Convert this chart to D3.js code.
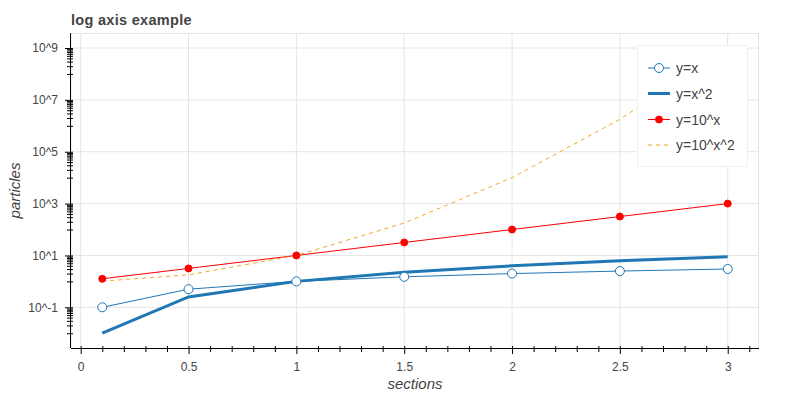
<!DOCTYPE html>
<html><head><meta charset="utf-8">
<script src="https://cdn.jsdelivr.net/npm/d3@7"></script>
<style>body{margin:0;background:#fff}svg{display:block}text{font-family:"Liberation Sans",Arial,Helvetica,sans-serif}</style>
</head><body><svg id="c" width="792" height="396"></svg>
<script>
const xs = [0.1, 0.5, 1.0, 1.5, 2.0, 2.5, 3.0];
const yLinear = [0.1, 0.5, 1.0, 1.5, 2.0, 2.5, 3.0];
const ySquare = [0.01, 0.25, 1.0, 2.25, 4.0, 6.25, 9.0];
const yPow10 = [1.2589, 3.1623, 10, 31.623, 100, 316.23, 1000];
const yPow10Sq = [1.0233, 1.7783, 10, 177.83, 10000, 1778279, 1e9];
const seriesNames = ["y=x", "y=x^2", "y=10^x", "y=10^x^2"];
const xTicks = [0, 0.5, 1, 1.5, 2, 2.5, 3];
const xTickLabels = ["0", "0.5", "1", "1.5", "2", "2.5", "3"];
const yTicks = [1e-1, 1e1, 1e3, 1e5, 1e7, 1e9];
const yTickLabels = ["10^-1", "10^1", "10^3", "10^5", "10^7", "10^9"];
const titleText = "log axis example";
const xLabel = "sections", yLabel = "particles";

const svg = d3.select("#c");
const L = 71, R = 759, T = 33, B = 348;
const x = d3.scaleLinear().domain([-0.045, 3.145]).range([L, R]);
const y = d3.scaleLog().domain([Math.pow(10, -2.57), Math.pow(10, 9.58)]).range([B, T]);
const ink = "#444";

// grid
svg.append("g").selectAll("line").data(xTicks).join("line")
  .attr("x1", d => x(d)).attr("x2", d => x(d)).attr("y1", T).attr("y2", B)
  .attr("stroke", "#e5e5e5");
svg.append("g").selectAll("line").data(yTicks).join("line")
  .attr("y1", d => y(d)).attr("y2", d => y(d)).attr("x1", L).attr("x2", R)
  .attr("stroke", "#e5e5e5");
// outline
svg.append("rect").attr("x", L).attr("y", T + 0.5).attr("width", R - L - 0.5).attr("height", B - T)
  .attr("fill", "none").attr("stroke", "#e5e5e5");

// clip
svg.append("clipPath").attr("id", "clip").append("rect")
  .attr("x", L).attr("y", T).attr("width", R - L).attr("height", B - T);
const plot = svg.append("g").attr("clip-path", "url(#clip)");

const pts = ys => xs.map((v, i) => [v, ys[i]]);
const line = d3.line().x(d => x(d[0])).y(d => y(d[1]));

plot.append("path").datum(pts(yLinear)).attr("d", line)
  .attr("fill", "none").attr("stroke", "#1f77b4").attr("stroke-width", 1);
plot.append("path").datum(pts(ySquare)).attr("d", line)
  .attr("fill", "none").attr("stroke", "#1f77b4").attr("stroke-width", 3);
plot.append("path").datum(pts(yPow10)).attr("d", line)
  .attr("fill", "none").attr("stroke", "red").attr("stroke-width", 1);
plot.append("path").datum(pts(yPow10Sq)).attr("d", line)
  .attr("fill", "none").attr("stroke", "#f5a623").attr("stroke-width", 1).attr("stroke-dasharray", "4,4");
plot.append("g").selectAll("circle").data(pts(yLinear)).join("circle")
  .attr("cx", d => x(d[0])).attr("cy", d => y(d[1])).attr("r", 4.5)
  .attr("fill", "white").attr("stroke", "#1f77b4");
plot.append("g").selectAll("circle").data(pts(yPow10)).join("circle")
  .attr("cx", d => x(d[0])).attr("cy", d => y(d[1])).attr("r", 3.5)
  .attr("fill", "red").attr("stroke", "red");

// x axis
const xMinor = d3.range(0, 32).map(i => i / 10).filter(v => !xTicks.some(t => Math.abs(t - v) < 1e-9));
const xa = svg.append("g").attr("transform", `translate(0,${B})`);
xa.call(d3.axisBottom(x).tickValues(xTicks).tickFormat((d, i) => xTickLabels[i]).tickSizeInner(6).tickSizeOuter(0).tickPadding(8));
xa.append("g").call(d3.axisBottom(x).tickValues(xMinor).tickFormat("").tickSizeInner(4).tickSizeOuter(0))
  .select(".domain").remove();
xa.selectAll(".tick line").attr("stroke", "#000").attr("y1", -2);
xa.selectAll(".tick text").attr("fill", ink).style("font-size", "12px");
xa.select(".domain").attr("d", `M${L},0.5H${R}`).attr("stroke", "#000");

// y axis
const yMinor = [];
yTicks.concat([1e-3]).forEach(t => { for (let k = 1; k < 10; k++) { const v = t * 10 * k; if (v > y.domain()[0] && v < y.domain()[1]) yMinor.push(v); } });
const ya = svg.append("g").attr("transform", `translate(${L},0)`);
ya.call(d3.axisLeft(y).tickValues(yTicks).tickFormat((d, i) => yTickLabels[i]).tickSizeInner(6).tickSizeOuter(0).tickPadding(7));
ya.append("g").call(d3.axisLeft(y).tickValues(yMinor).tickFormat("").tickSizeInner(4).tickSizeOuter(0))
  .select(".domain").remove();
ya.selectAll(".tick line").attr("stroke", "#000").attr("x1", 2);
ya.selectAll(".tick text").attr("fill", ink).style("font-size", "12px");
ya.select(".domain").attr("d", `M-0.5,${T}V${B}`).attr("stroke", "#000");

// labels
svg.append("text").attr("x", L).attr("y", 25).text(titleText)
  .attr("fill", ink).style("font-size", "14.5px").style("font-weight", "bold").style("letter-spacing", "0.3px");
svg.append("text").attr("x", (L + R) / 2).attr("y", 389).attr("text-anchor", "middle").text(xLabel)
  .attr("fill", ink).style("font-size", "15px").style("font-style", "italic");
svg.append("text").attr("transform", `translate(20,${(T + B) / 2}) rotate(-90)`).attr("text-anchor", "middle").text(yLabel)
  .attr("fill", ink).style("font-size", "15px").style("font-style", "italic");

// legend
const lg = svg.append("g");
lg.append("rect").attr("x", 637.5).attr("y", 45.5).attr("width", 110).attr("height", 121)
  .attr("fill", "white").attr("fill-opacity", 0.95).attr("stroke", "#f0f0f0");
const ly = [68, 93.5, 119.5, 145];
const gx0 = 648, gx1 = 670, gxc = 659;
const items = lg.selectAll("g").data(seriesNames).join("g").attr("transform", (d, i) => `translate(0,${ly[i]})`);
items.append("text").attr("x", 676).attr("y", 5).text(d => d).attr("fill", ink).style("font-size", "14px");
const it = items.nodes().map(n => d3.select(n));
it[0].append("line").attr("x1", gx0).attr("x2", gx1).attr("stroke", "#1f77b4");
it[0].append("circle").attr("cx", gxc).attr("r", 4.5).attr("fill", "white").attr("stroke", "#1f77b4");
it[1].append("line").attr("x1", gx0).attr("x2", gx1).attr("stroke", "#1f77b4").attr("stroke-width", 3);
it[2].append("line").attr("x1", gx0).attr("x2", gx1).attr("stroke", "red");
it[2].append("circle").attr("cx", gxc).attr("r", 3.5).attr("fill", "red").attr("stroke", "red");
it[3].append("line").attr("x1", gx0).attr("x2", gx1).attr("stroke", "#f5a623").attr("stroke-dasharray", "4,4");
</script></body></html>
